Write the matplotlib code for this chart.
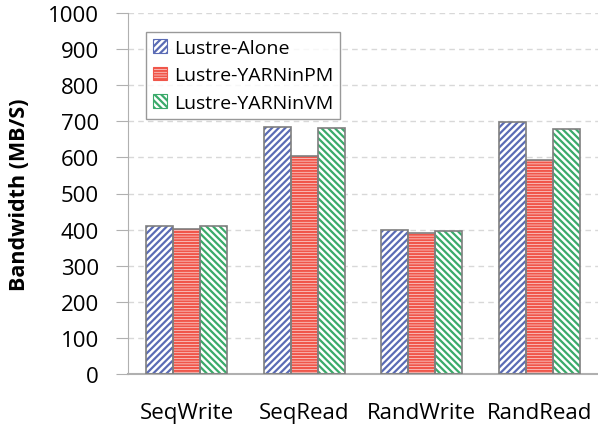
import numpy as np
import matplotlib.pyplot as plt

plt.rcParams['font.family'] = ['Open Sans', 'DejaVu Sans']
plt.rcParams['hatch.linewidth'] = 1.6

categories = ['SeqWrite', 'SeqRead', 'RandWrite', 'RandRead']
series = ['Lustre-Alone', 'Lustre-YARNinPM', 'Lustre-YARNinVM']
alone = [410, 683, 399, 697]
yarn_pm = [402, 603, 391, 592]
yarn_vm = [410, 681, 396, 679]

hatch_colors = ['#5a6bb5', '#f0564a', '#3aaa6a']
hatches = ['/////', '------', '\\\\\\\\\\']

fig = plt.figure(figsize=(5.98, 4.27), dpi=100)
ax = fig.add_axes([128/598, 1 - 375/427, 470/598, 361/427])

x = np.arange(len(categories))
w = 0.23
handles = []
for i, vals in enumerate([alone, yarn_pm, yarn_vm]):
    pos = x + (i - 1) * w
    ax.bar(pos, vals, w, color='white', edgecolor=hatch_colors[i],
           hatch=hatches[i], linewidth=0, zorder=2)
    ax.bar(pos, vals, w, color='none', edgecolor='#7f7f7f', linewidth=1.2, zorder=3)
    h = plt.Rectangle((0, 0), 1, 1, facecolor='white', edgecolor=hatch_colors[i],
                      hatch=hatches[i], linewidth=0.8, label=series[i])
    handles.append(h)

ax.set_ylim(0, 1000)
ax.set_xlim(-0.5, 3.5)
ax.set_yticks(np.arange(0, 1001, 100))
ax.set_xticks(x)
ax.set_xticklabels(categories, fontsize=16)
ax.tick_params(axis='y', labelsize=16, length=9, color='#b0b0b0', pad=12)
ax.tick_params(axis='x', length=0, pad=20)
ax.yaxis.grid(True, linestyle=(0, (4, 3)), color='#d8d8d8', linewidth=1)
ax.set_axisbelow(True)
for s in ['top', 'right']:
    ax.spines[s].set_visible(False)
ax.spines['left'].set_color('#b0b0b0')
ax.spines['bottom'].set_color('#b0b0b0')
ax.spines['bottom'].set_linewidth(1.5)
ax.set_ylabel('Bandwidth (MB/S)', fontsize=15.5, fontweight='bold', labelpad=8)
ax.yaxis.set_label_coords(-98/470, 0.5)

leg = ax.legend(handles=handles, loc='upper left', bbox_to_anchor=(0.018, 0.975),
                fontsize=14, frameon=True, fancybox=False, handlelength=0.7,
                handleheight=0.7, handletextpad=0.4, borderpad=0.35, labelspacing=0.5)
leg.get_frame().set_edgecolor('#808080')
leg.get_frame().set_linewidth(1)

fig.savefig('out.png', dpi=100)
